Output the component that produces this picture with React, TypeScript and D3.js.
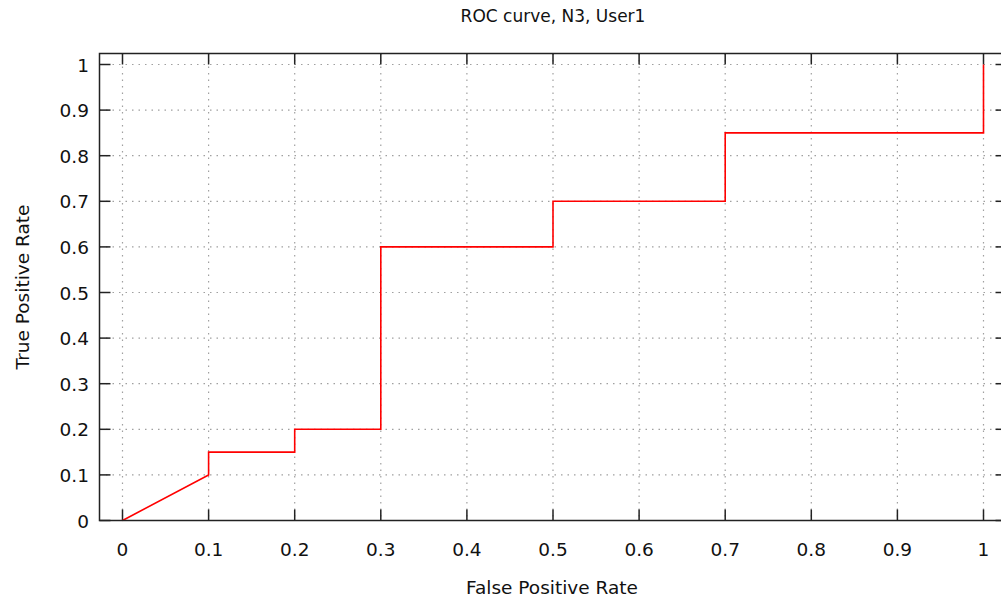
import * as d3 from 'd3';
import React, { useRef, useEffect } from 'react';

// ROC points (False Positive Rate, True Positive Rate)
const fpr = [0, 0.1, 0.1, 0.2, 0.2, 0.3, 0.3, 0.5, 0.5, 0.7, 0.7, 1, 1];
const tpr = [0, 0.1, 0.15, 0.15, 0.2, 0.2, 0.6, 0.6, 0.7, 0.7, 0.85, 0.85, 1];
const xTicks = [0, 0.1, 0.2, 0.3, 0.4, 0.5, 0.6, 0.7, 0.8, 0.9, 1];
const yTicks = [0, 0.1, 0.2, 0.3, 0.4, 0.5, 0.6, 0.7, 0.8, 0.9, 1];
const title = 'ROC curve, N3, User1';
const xLabel = 'False Positive Rate';
const yLabel = 'True Positive Rate';

function RocChart({ width, height }: { width: number; height: number }) {
    const ref = useRef<SVGSVGElement>(null);

    useEffect(() => {
        const svg = d3.select(ref.current);
        svg.selectAll('*').remove();

        const font = "'DejaVu Sans', Verdana, sans-serif";
        const frame = { left: 99.5, right: 1006.5, top: 53.5, bottom: 520.5 };

        const x = d3.scaleLinear().domain([0, 1]).range([122.5, 983.5]);
        const y = d3.scaleLinear().domain([0, 1]).range([520.5, 64.5]);

        svg.append('rect')
            .attr('width', width)
            .attr('height', height)
            .attr('fill', 'white');

        // grid
        const grid = svg.append('g')
            .attr('stroke', '#a0a0a0')
            .attr('stroke-width', 1.2)
            .attr('stroke-dasharray', '1.5 5');
        grid.selectAll('line.vx')
            .data(xTicks)
            .enter()
            .append('line')
            .attr('x1', d => x(d)).attr('x2', d => x(d))
            .attr('y1', frame.top).attr('y2', frame.bottom);
        grid.selectAll('line.hy')
            .data(yTicks)
            .enter()
            .append('line')
            .attr('y1', d => y(d)).attr('y2', d => y(d))
            .attr('x1', frame.left).attr('x2', frame.right);

        // ticks (inward, mirrored)
        const tl = 11;
        const ticks = svg.append('g').attr('stroke', '#222').attr('stroke-width', 1.5);
        xTicks.forEach(t => {
            ticks.append('line').attr('x1', x(t)).attr('x2', x(t)).attr('y1', frame.bottom).attr('y2', frame.bottom - tl);
            ticks.append('line').attr('x1', x(t)).attr('x2', x(t)).attr('y1', frame.top).attr('y2', frame.top + tl);
        });
        yTicks.forEach(t => {
            ticks.append('line').attr('y1', y(t)).attr('y2', y(t)).attr('x1', frame.left).attr('x2', frame.left + tl);
            ticks.append('line').attr('y1', y(t)).attr('y2', y(t)).attr('x1', frame.right).attr('x2', frame.right - tl);
        });

        // the ROC line
        const pts: [number, number][] = fpr.map((f, i) => [f, tpr[i]]);
        const line = d3.line<[number, number]>()
            .x(d => x(d[0]))
            .y(d => y(d[1]));
        svg.append('path')
            .datum(pts)
            .attr('d', line)
            .attr('fill', 'none')
            .attr('stroke', '#ff0000')
            .attr('stroke-width', 1.6);

        // frame
        svg.append('rect')
            .attr('x', frame.left)
            .attr('y', frame.top)
            .attr('width', frame.right - frame.left)
            .attr('height', frame.bottom - frame.top)
            .attr('fill', 'none')
            .attr('stroke', '#222')
            .attr('stroke-width', 1.5);

        const fmt = (v: number) => (v === 0 || v === 1 ? String(v) : d3.format('.1f')(v));
        const fs = '18.5px';

        svg.append('g')
            .selectAll('text')
            .data(xTicks)
            .enter()
            .append('text')
            .attr('x', d => x(d))
            .attr('y', 556)
            .attr('text-anchor', 'middle')
            .style('font-family', font)
            .style('font-size', fs)
            .attr('fill', '#111')
            .text(d => fmt(d));

        svg.append('g')
            .selectAll('text')
            .data(yTicks)
            .enter()
            .append('text')
            .attr('x', 89)
            .attr('y', d => y(d) + 7)
            .attr('text-anchor', 'end')
            .style('font-family', font)
            .style('font-size', fs)
            .attr('fill', '#111')
            .text(d => fmt(d));

        svg.append('text')
            .attr('x', 553)
            .attr('y', 22)
            .attr('text-anchor', 'middle')
            .style('font-family', font)
            .style('font-size', '17px')
            .attr('fill', '#111')
            .text(title);

        svg.append('text')
            .attr('x', 552)
            .attr('y', 594)
            .attr('text-anchor', 'middle')
            .style('font-family', font)
            .style('font-size', fs)
            .attr('fill', '#111')
            .text(xLabel);

        svg.append('text')
            .attr('transform', 'translate(29,287) rotate(-90)')
            .attr('text-anchor', 'middle')
            .style('font-family', font)
            .style('font-size', fs)
            .attr('fill', '#111')
            .text(yLabel);
    }, [width, height]);

    return <svg ref={ref} width={width} height={height} style={{ display: 'block' }} />;
}

export default function App() {
    return (
        <div style={{ position: 'absolute', left: 0, top: 0 }}>
            <RocChart width={1001} height={601} />
        </div>
    );
}
